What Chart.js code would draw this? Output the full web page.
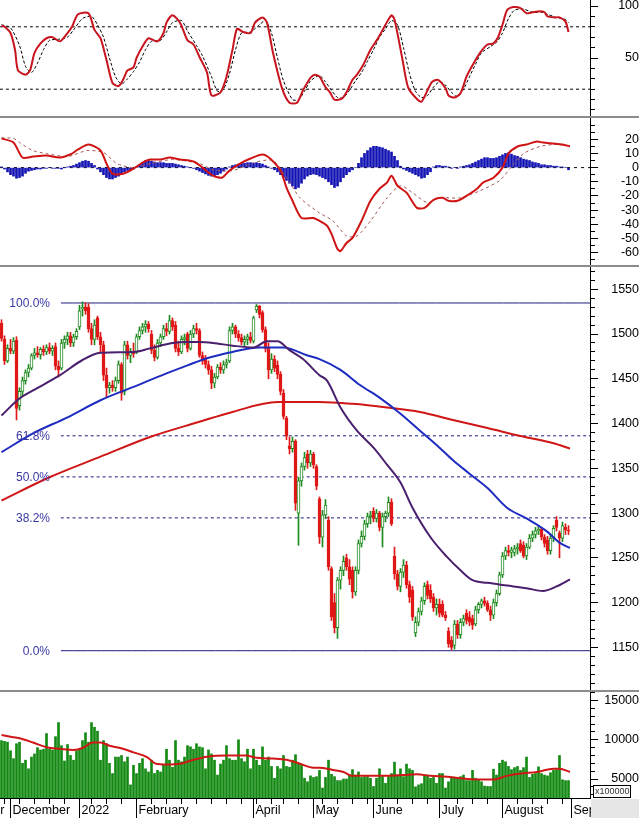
<!DOCTYPE html>
<html><head><meta charset="utf-8">
<script src="https://cdn.jsdelivr.net/npm/chart.js@4.4.1/dist/chart.umd.min.js"></script>
<style>
html,body{margin:0;padding:0;background:#fff}
#wrap{position:relative;width:639px;height:818px;overflow:hidden;background:#fff}
canvas{position:absolute;left:0}
.sep{position:absolute;left:0;width:639px;height:2px;background:#8c8c8c}
</style></head><body>
<div id="wrap">
<canvas id="cStoch" width="639" height="116" style="top:0"></canvas>
<div class="sep" style="top:116px"></div>
<canvas id="cMacd" width="639" height="147" style="top:118px"></canvas>
<div class="sep" style="top:265px"></div>
<canvas id="cPrice" width="639" height="423" style="top:267px"></canvas>
<div class="sep" style="top:690px"></div>
<canvas id="cVol" width="639" height="126" style="top:692px"></canvas>
</div>
<script>
// ---------------- DATA ----------------
const opens  = [1512,1494,1470,1484,1481,1493,1420,1436,1448,1457,1462,1476,1479,1477,1483,1480,1485,1481,1486,1464,1462,1490,1494,1498,1490,1497,1508,1528,1530,1530,1506,1494,1518,1497,1488,1454,1440,1443,1440,1448,1466,1436,1488,1476,1480,1480,1497,1504,1508,1511,1500,1482,1474,1490,1497,1506,1503,1515,1510,1484,1480,1494,1500,1484,1500,1506,1504,1476,1472,1466,1460,1445,1452,1463,1460,1466,1470,1504,1508,1500,1496,1491,1494,1497,1492,1527,1531,1524,1505,1484,1460,1472,1465,1455,1434,1406,1375,1372,1380,1300,1336,1352,1366,1356,1366,1352,1316,1273,1298,1292,1238,1200,1172,1225,1236,1250,1240,1236,1212,1236,1266,1274,1288,1296,1302,1294,1300,1284,1296,1300,1312,1252,1232,1218,1234,1242,1220,1214,1166,1178,1190,1202,1220,1214,1206,1194,1198,1198,1186,1168,1158,1152,1176,1164,1178,1188,1184,1182,1176,1192,1198,1202,1199,1192,1186,1200,1210,1231,1252,1258,1256,1256,1260,1266,1264,1252,1262,1272,1276,1280,1282,1273,1270,1258,1272,1292,1278,1272,1284,1281];
const highs  = [1516,1498,1488,1494,1496,1497,1440,1452,1460,1466,1478,1484,1486,1485,1487,1488,1490,1487,1490,1470,1494,1498,1502,1502,1500,1506,1532,1536,1535,1534,1512,1516,1520,1502,1492,1462,1446,1448,1452,1470,1468,1492,1492,1484,1490,1500,1508,1512,1515,1514,1504,1488,1494,1500,1510,1512,1521,1518,1514,1492,1498,1500,1502,1504,1510,1512,1506,1480,1476,1470,1464,1456,1466,1468,1470,1472,1508,1512,1510,1504,1500,1498,1500,1502,1520,1533,1532,1526,1508,1490,1478,1476,1470,1458,1438,1408,1385,1385,1382,1340,1356,1368,1370,1370,1368,1354,1318,1303,1315,1296,1240,1210,1228,1240,1252,1254,1248,1240,1240,1270,1280,1292,1300,1302,1306,1304,1302,1300,1302,1318,1316,1262,1236,1238,1248,1246,1224,1218,1184,1194,1206,1222,1224,1220,1210,1204,1204,1202,1190,1172,1162,1180,1180,1182,1186,1192,1190,1186,1196,1200,1204,1206,1202,1196,1204,1214,1234,1256,1262,1264,1262,1264,1266,1270,1268,1266,1276,1280,1284,1286,1284,1276,1274,1276,1286,1296,1280,1290,1288,1286];
const lows   = [1492,1466,1468,1478,1478,1404,1415,1430,1444,1452,1460,1472,1474,1472,1476,1477,1478,1476,1460,1452,1460,1484,1488,1486,1486,1494,1505,1520,1522,1502,1488,1488,1494,1480,1448,1429,1434,1436,1436,1445,1426,1432,1472,1468,1474,1478,1494,1500,1502,1502,1478,1470,1472,1486,1494,1498,1500,1504,1480,1476,1478,1488,1480,1482,1496,1500,1474,1466,1462,1455,1439,1440,1450,1456,1456,1462,1468,1500,1496,1492,1488,1486,1488,1490,1490,1524,1518,1502,1480,1450,1456,1458,1450,1432,1405,1382,1366,1368,1303,1264,1330,1348,1350,1352,1350,1326,1266,1262,1294,1236,1180,1166,1160,1215,1230,1236,1220,1205,1208,1232,1262,1270,1284,1288,1290,1290,1280,1262,1290,1296,1286,1226,1214,1212,1228,1216,1200,1180,1162,1174,1186,1198,1204,1200,1190,1186,1184,1184,1180,1150,1147,1148,1160,1160,1174,1176,1174,1170,1174,1188,1194,1196,1190,1180,1182,1196,1208,1228,1248,1252,1250,1252,1254,1256,1250,1248,1260,1268,1272,1276,1270,1262,1254,1254,1268,1280,1250,1268,1276,1276];
const closes = [1495,1470,1484,1481,1492,1417,1436,1448,1457,1462,1476,1479,1477,1483,1480,1485,1481,1484,1464,1460,1490,1494,1498,1490,1497,1503,1526,1530,1526,1506,1494,1510,1497,1488,1454,1440,1443,1440,1448,1466,1434,1488,1476,1480,1478,1497,1504,1508,1511,1506,1482,1474,1490,1497,1506,1503,1515,1508,1484,1480,1494,1496,1484,1500,1506,1504,1476,1470,1466,1460,1445,1452,1463,1460,1466,1468,1504,1508,1500,1496,1491,1494,1497,1493,1518,1531,1522,1505,1484,1460,1472,1462,1455,1436,1408,1386,1372,1380,1311,1336,1352,1362,1356,1366,1354,1330,1273,1298,1309,1240,1184,1172,1225,1236,1246,1240,1226,1212,1236,1266,1274,1288,1296,1298,1294,1300,1284,1296,1300,1312,1288,1232,1218,1234,1242,1220,1206,1184,1178,1190,1202,1218,1208,1204,1194,1198,1188,1186,1183,1154,1150,1176,1164,1178,1182,1180,1178,1175,1192,1198,1202,1199,1192,1186,1200,1210,1231,1252,1258,1256,1259,1260,1262,1258,1252,1262,1272,1276,1280,1282,1273,1266,1258,1272,1283,1284,1272,1286,1281,1280];
const volumes = [9900,9800,9700,8600,7600,9500,9700,7000,7400,6300,7800,8200,9000,8700,8800,10800,8800,8700,10400,12200,9250,7300,9400,8000,7400,8600,8800,9900,10900,9700,12200,11600,11100,7400,9900,9500,7000,5700,7800,7800,8000,7200,7800,4250,6750,5700,7000,7600,6300,5900,7400,5700,6100,5900,6750,8800,7400,6500,9900,7400,7200,7800,9250,9100,8800,9500,9100,9000,6300,8700,8200,7400,5500,6900,7400,9250,7600,7400,7400,10000,7600,7200,8800,6300,8800,7400,6750,9100,7400,7800,6600,5100,6600,6300,8000,6600,6500,7400,8100,7000,6750,5100,4650,5400,5200,5300,6100,3850,5200,7400,5600,5300,4800,4800,5000,5000,5500,6200,5500,5900,5200,5300,5300,5100,4050,5100,6300,5300,4450,5300,5700,7150,5500,6300,5300,6900,6300,6100,4000,4250,4400,5500,5500,5100,5200,4450,5700,5700,3850,4650,5100,5100,5100,5300,5500,4800,4800,6100,5100,4900,4650,4100,4050,4050,6250,5500,7000,7400,7200,6600,6200,6450,6600,6100,6450,7800,5200,5600,5700,6550,5700,5500,5400,5800,6100,6200,8000,4900,4800,4800];
const macdHist = [0.5,-1,-3,-5,-6,-7.5,-7,-6,-4,-2.5,-2,-1.5,-1,-1,-0.5,-0.5,0,-0.5,-0.5,-0.5,-1,0,0.5,1,1.5,2.5,3.5,4.5,5,4.5,3,1.5,-1,-3,-5,-7,-8,-8,-7,-6,-4.5,-3,-2,-1.5,-1,0.5,2,3.5,5,5,4.5,4,3.5,3.5,3.5,3,3,3,2.5,2,1.5,1,0.5,0,-0.5,-1.5,-2.5,-3.5,-4.5,-5.5,-6,-6,-5,-4,-2.5,-1,0.5,1.5,2,2.5,3,3,3.5,3.5,3,3.5,3,2.5,1.5,0.5,-0.5,-1.5,-3,-5,-7,-9,-11,-13,-15,-14,-11,-8,-6,-5,-4.5,-5,-6,-7,-8,-10,-12,-14,-13,-10,-7,-5,-3,-1.5,0,3,7,10,12,14,15,15,14.5,14,13,12,11,8,5,1,-1,-2,-3,-4,-5,-6,-7.5,-7,-5,-3,0.5,1.5,1.5,1,1,0.5,-0.5,0,-0.5,0.5,1,1.5,2,3,4,5,6,7,7,6.5,6.5,7,8,9,10,10.5,9.5,8.5,8,7,6,5.5,5,4,3.5,3,2,2,1.5,1.5,1,1,0.5,0.5,0,-1.5];

// moving averages on the price panel (bar index, value)
const maFastIdx = [0,6,10.5,19.5,27,33,44,49.5,57,62,66,70.5,77,84,88.5,92,96,100.5,106,108.5,113,118.5,124,128.5,133,137,143,148.5,153,157,162,168.5,175,180.5,185,189.5];
const maFastVal = [1409,1428,1437,1454,1471,1479,1480,1484,1490,1491,1491,1490,1487,1485,1492,1492,1482,1472,1454,1448,1418,1392,1373,1354,1334,1306,1273,1251,1236,1225,1222,1219,1216,1213,1218,1226];
const maMidIdx = [0,10.5,22,33,44,55,62,68.5,77,86,94,102,106,113,119.5,126,133,139.5,146,150.5,156,162,168.5,175,182,186,189.5];
const maMidVal = [1368,1389,1407,1426,1441,1456,1465,1473,1480,1485,1485,1476,1472,1460,1443,1429,1411,1392,1373,1359,1344,1328,1306,1294,1279,1267,1261];
const maSlowIdx = [0,16,33,49.5,66,77,92,106,117,128.5,139.5,150.5,162,173,184,189.5];
const maSlowVal = [1314,1340,1363,1385,1402,1413,1424,1424,1422,1418,1413,1404,1395,1386,1378,1372];

// stochastic
const stochKIdx = [0,1,3,4.5,5.5,8,9.5,11,13,15,17,19.5,22,23.5,25.5,29,31,33,35,37,39,40.5,42,44,45,47,49,52,54,55,57,59.5,62,64,66,68.5,70,73,75,77,78.5,80.5,83,84.5,87,88.5,90.5,93.5,96,98.5,100.5,103,104.5,106,108,109.5,111,113.5,115,117,118.5,120.5,123,125.5,128,130,131,133.5,135.5,138,140,142,143.5,145.5,148,149,151,153,155,157,159.5,162,164,165.5,167,168.5,170.5,173,175,177,179.5,181,182,184.5,186,188,189];
const stochKVal = [81,80,74,58,38,34,38,55,64,69,70,66,74,80,92,93,77,69,48,26,23,29,38,41,50,61,69,66,74,84,91,84,67,63,51,36,14,17,32,58,78,75,74,84,89,84,55,21,7,7,19,31,34,32,22,17,10,11,17,29,34,43,58,69,82,91,87,51,22,12,8,19,27,29,21,14,12,16,32,43,55,63,64,70,82,96,99,98,93,94,95,94,90,89,89,85,75];
const stochDIdx = [0,3,6,8,10,12,14,16,19,22,24,27,30,32,34,36,38,40,42,44,46,48,50,53,55,57,60,62,65,67,70,72,74,76,78,80,83,86,88,90,92,94,97,99,101,103,106,108,110,112,114,116,118,120,122,124,126,128,130,132,134,136,138,140,142,144,146,148,150,152,154,156,158,160,163,165,167,169,171,174,177,180,182,185,188,189];
const stochDVal = [82,79,62,42,36,45,58,67,68,70,77,88,90,82,70,50,32,25,30,37,46,58,66,67,75,84,86,76,62,52,32,18,20,35,58,74,75,82,86,74,50,28,10,10,18,28,33,27,19,12,12,19,28,36,47,58,70,78,86,82,60,35,18,12,14,22,27,24,17,13,20,32,44,55,61,65,74,88,96,97,94,94,92,89,87,84];
const stochLevels = [80, 20];

// MACD
const macdIdx = [0,4,7,10.5,15,19.5,23.5,25.5,29,33,35,37,40.5,44,47,49.5,53,56,59.5,64,67,70.5,73.5,76,79.5,83,87,89.5,93,95,97,100,104,106,108.5,110,112,113,115,117,120,123,126,128.5,130,132,135,138.5,141,144,147,149,152,155,158.5,160.5,164,167,169,172,175,178.5,180.5,184,187,189.5];
const macdVal = [20.6,17.7,7.1,7.8,8.5,7.1,9.9,12.8,16.3,12.1,2.8,-4.3,-4.3,-0.7,3.5,5.7,5.7,7.1,5.7,4.3,0,-5.7,-7.1,-2.1,2.8,6.4,9.2,6.4,-2.1,-14.2,-23.4,-35.5,-35.5,-37.6,-41,-46.8,-57.4,-58.9,-53.2,-49.6,-37.6,-23.4,-14.9,-10.6,-5.7,-12.8,-17.7,-28.4,-28.4,-22.7,-21.3,-23.4,-23.4,-19.9,-14.9,-10.6,-7.1,0,9.9,14.9,16.3,18.4,17.7,17,16.3,14.9];
const signalIdx = [0,4,6,10.5,15,22,28.5,34,38.5,44,49.5,57,66,70.5,77,84,90.5,95,99.5,106,110.5,115,118.5,123,128.5,133,137,142,146,153,159.5,166,169.5,174,179.5,184,189.5];
const signalVal = [21,20.6,17.7,12,9.9,7.8,12,10.6,2.8,0,2.8,5.7,2.8,-1.4,-2.1,3.5,5,-7.1,-21.3,-32,-37.6,-48.2,-48.2,-37.6,-21.3,-12.8,-17.7,-24.8,-21.3,-21.3,-16.3,-9.2,-0.7,9.9,14.9,16.3,15.6];

// volume moving average
const volMaIdx = [0,3,6,10.5,15,19.5,24,27,30.5,33,36,39.5,44,48.5,51.5,55,59.5,64,68.5,75,81.5,85,90.5,95,99.5,104,106,110.5,114,117,123,128.5,134,138.5,143,148.5,153,158.5,164,168.5,173,178.5,184,186,189.5];
const volMaVal = [10600,10400,10200,9650,9050,8850,8700,8950,9650,9650,9250,8950,8400,7800,6950,6850,6950,7450,7850,8000,8000,7700,7600,7450,6950,6450,6450,6150,5900,5400,5400,5400,5500,5600,5400,5300,5100,4950,4950,5400,5700,5900,6300,6300,5900];

// Fibonacci retracement
const fibNames  = ['100.0%','61.8%','50.0%','38.2%','0.0%'];
const fibLevels = [1534.7,1386.3,1340.4,1294.6,1146.2];
const fibDashed = [false,true,true,true,false];
const fibStartIdx = 19.8;

// x-axis (bar index of first session of each month)
const monthTickIdx = [-18.9,3,26,45,84,104,124,146,167,190];
const monthTickLabels = ['November','December','2022','February','April','May','June','July','August','September'];
const weekTickIdx = [1,6,11,16,21,30,35,40,50,55,60,65,70,75,80,85,90,94,99,107,112,117,122,127,132,137,142,152,157,162,172,177,182,187];

// y-axis ticks
const stochTickVals = [0,10,20,30,40,50,60,70,80,90,100];
const stochLabelVals = [50,100];
const macdTickVals = [-65,-60,-55,-50,-45,-40,-35,-30,-25,-20,-15,-10,-5,0,5,10,15,20,25,30];
const macdLabelVals = [-60,-50,-40,-30,-20,-10,0,10,20];
const priceTickVals = [];
for (let v = 1110; v <= 1570; v += 10) priceTickVals.push(v);
const priceLabelVals = [1150,1200,1250,1300,1350,1400,1450,1500,1550];
const volTickVals = [];
for (let v = 3000; v <= 16000; v += 1000) volTickVals.push(v);
const volLabelVals = [5000,10000,15000];

// ---------------- STYLE / LAYOUT ----------------
const FAMILY = '"Liberation Sans", Arial, Helvetica, sans-serif';
Chart.defaults.font.family = FAMILY;
Chart.defaults.font.size = 12.5;
Chart.defaults.color = '#000';
const mctx = document.createElement('canvas').getContext('2d');
mctx.font = '12.5px ' + FAMILY;
const textW = s => mctx.measureText(s).width;

const X_MIN = -0.5, X_MAX = -0.5 + 590 / 3;
const AXIS_W = 49, LABEL_RIGHT = 46, TICK_LEN = 8;
const GREEN = '#1f8a1f', RED = '#e01818';

const pts = (xs, ys) => xs.map((x, k) => ({x, y: ys[k]}));
const hline = (y) => [{x: X_MIN, y}, {x: X_MAX, y}];

function hiddenX() {
  return {type: 'linear', min: X_MIN, max: X_MAX, bounds: 'data', offset: false, display: false};
}
function yAxis(min, max, tickVals, labelVals, fmt) {
  const widest = Math.max(...labelVals.map(v => textW(fmt(v))));
  return {
    type: 'linear', position: 'right', min, max, bounds: 'data', offset: false,
    afterBuildTicks: s => { s.ticks = tickVals.map(v => ({value: v})); },
    afterFit: s => { s.width = AXIS_W; s.paddingTop = 0; s.paddingBottom = 0; },
    grid: {drawOnChartArea: false, drawTicks: true, tickLength: TICK_LEN, tickColor: '#000', tickWidth: 1,
      tickBorderDash: c => (c.tick && labelVals.includes(c.tick.value)) ? [] : [4, 30]},
    border: {display: true, color: '#000', width: 1},
    ticks: {autoSkip: false, crossAlign: 'far', padding: LABEL_RIGHT - TICK_LEN - widest, color: '#000',
      callback: v => labelVals.includes(v) ? fmt(v) : ''}
  };
}
const baseOpts = (scales, extra) => Object.assign({
  responsive: false, animation: false, devicePixelRatio: 1, events: [],
  layout: {padding: 0},
  plugins: {legend: {display: false}, tooltip: {enabled: false}},
  scales
}, extra || {});
const lineDs = (data, color, width, dash, order, smooth) => ({
  type: 'line', data, borderColor: color, borderWidth: width, borderDash: dash || [],
  pointRadius: 0, fill: false, order,
  tension: smooth ? 0.4 : 0.25, cubicInterpolationMode: smooth ? 'monotone' : 'default'
});

// ---------------- STOCHASTIC ----------------
new Chart(document.getElementById('cStoch'), {
  type: 'line',
  data: {datasets: [
    lineDs(pts(stochKIdx, stochKVal), '#c8141e', 2, null, 1),
    lineDs(pts(stochDIdx, stochDVal), '#000', 1, [3, 2], 2),
    ...stochLevels.map(l => lineDs(hline(l), '#000', 1, [3, 3], 3))
  ]},
  options: baseOpts({x: hiddenX(), y: yAxis(-5.77, 105.77, stochTickVals, stochLabelVals, String)})
});

// ---------------- MACD ----------------
new Chart(document.getElementById('cMacd'), {
  type: 'bar',
  data: {datasets: [
    {type: 'bar', data: macdHist.map((v, i) => ({x: i, y: v})), backgroundColor: '#1414b4',
     barThickness: 2, grouped: false, order: 4},
    lineDs(hline(0), '#000', 1, [3, 4], 5),
    lineDs(pts(signalIdx, signalVal), '#a85858', 1, [3, 3], 2),
    lineDs(pts(macdIdx, macdVal), '#d01414', 2, null, 1)
  ]},
  options: baseOpts({x: hiddenX(), y: yAxis(-68.7, 35.0, macdTickVals, macdLabelVals, String)})
});

// ---------------- PRICE ----------------
const up = closes.map((c, i) => c >= opens[i]);
const fibPlugin = {
  id: 'fibLabels',
  afterDatasetsDraw(chart) {
    const ctx = chart.ctx, ys = chart.scales.y;
    ctx.save();
    ctx.font = '12px ' + FAMILY;
    ctx.fillStyle = '#3838a4';
    ctx.textAlign = 'right';
    ctx.textBaseline = 'middle';
    fibLevels.forEach((lv, k) => ctx.fillText(fibNames[k], 50, ys.getPixelForValue(lv) + 0.5));
    ctx.restore();
  }
};
new Chart(document.getElementById('cPrice'), {
  type: 'bar',
  data: {datasets: [
    ...fibLevels.map((lv, k) => lineDs([{x: fibStartIdx, y: lv}, {x: X_MAX, y: lv}], '#1c1c7c', 1,
        fibDashed[k] ? [3, 3] : null, 10)),
    {type: 'bar', data: lows.map((l, i) => ({x: i, y: [l, highs[i]]})),
     backgroundColor: up.map(u => u ? GREEN : RED), barThickness: 1, grouped: false, order: 8},
    {type: 'bar', data: opens.map((o, i) => ({x: i, y: [o, closes[i]]})),
     backgroundColor: up.map(u => u ? '#ffffff' : RED), borderColor: up.map(u => u ? GREEN : RED),
     borderWidth: 1, borderSkipped: false, barThickness: 3, grouped: false, order: 7},
    lineDs(pts(maSlowIdx, maSlowVal), '#d01616', 2, null, 3, true),
    lineDs(pts(maMidIdx, maMidVal), '#1f2cc0', 2, null, 2, true),
    lineDs(pts(maFastIdx, maFastVal), '#4a1f6e', 2, null, 1, true)
  ]},
  options: baseOpts({x: hiddenX(), y: yAxis(1102.3, 1574.9, priceTickVals, priceLabelVals, String)}),
  plugins: [fibPlugin]
});

// ---------------- VOLUME + DATE AXIS ----------------
const allXTicks = monthTickIdx.concat(weekTickIdx.filter(w => !monthTickIdx.includes(w)));
const volPlugin = {
  id: 'volExtras',
  afterDraw(chart) {
    const ctx = chart.ctx, a = chart.chartArea;
    ctx.save();
    ctx.fillStyle = '#e6e6e6';
    ctx.fillRect(a.right + 1, a.bottom + 1, chart.width - a.right - 1, chart.height - a.bottom - 1);
    const bx = a.right + 3, by = a.bottom - 13;
    ctx.fillStyle = '#fff';
    ctx.fillRect(bx, by, 37, 12);
    ctx.strokeStyle = '#000';
    ctx.lineWidth = 1;
    ctx.strokeRect(bx + 0.5, by + 0.5, 37, 12);
    ctx.fillStyle = '#333';
    ctx.font = '9px ' + FAMILY;
    ctx.textAlign = 'left';
    ctx.textBaseline = 'middle';
    ctx.fillText('x100000', bx + 2, by + 6.5);
    ctx.restore();
  }
};
new Chart(document.getElementById('cVol'), {
  type: 'bar',
  data: {datasets: [
    {type: 'bar', data: volumes.map((v, i) => ({x: i, y: v})), backgroundColor: '#138a13',
     barThickness: 2, grouped: false, order: 2},
    lineDs(pts(volMaIdx, volMaVal), '#d01616', 2, null, 1, true)
  ]},
  options: baseOpts({
    x: {
      type: 'linear', min: X_MIN, max: X_MAX, bounds: 'data', offset: false, position: 'bottom',
      afterBuildTicks: s => { s.ticks = allXTicks.map(v => ({value: v})); },
      afterFit: s => { s.height = 20; s.paddingLeft = 0; s.paddingRight = 0; },
      grid: {offset: false, drawOnChartArea: false, drawTicks: true, tickLength: 20, tickColor: '#000', tickWidth: 1,
        tickBorderDash: c => (c.tick && monthTickIdx.includes(c.tick.value)) ? [] : [5, 40]},
      border: {display: true, color: '#000', width: 1},
      ticks: {autoSkip: false, maxRotation: 0, minRotation: 0, align: 'start', labelOffset: 2, padding: -15,
        color: '#000', callback: v => { const k = monthTickIdx.indexOf(v); return k >= 0 ? monthTickLabels[k] : ''; }}
    },
    y: yAxis(2577, 16097, volTickVals, volLabelVals, String)
  }),
  plugins: [volPlugin]
});
</script>
</body></html>
